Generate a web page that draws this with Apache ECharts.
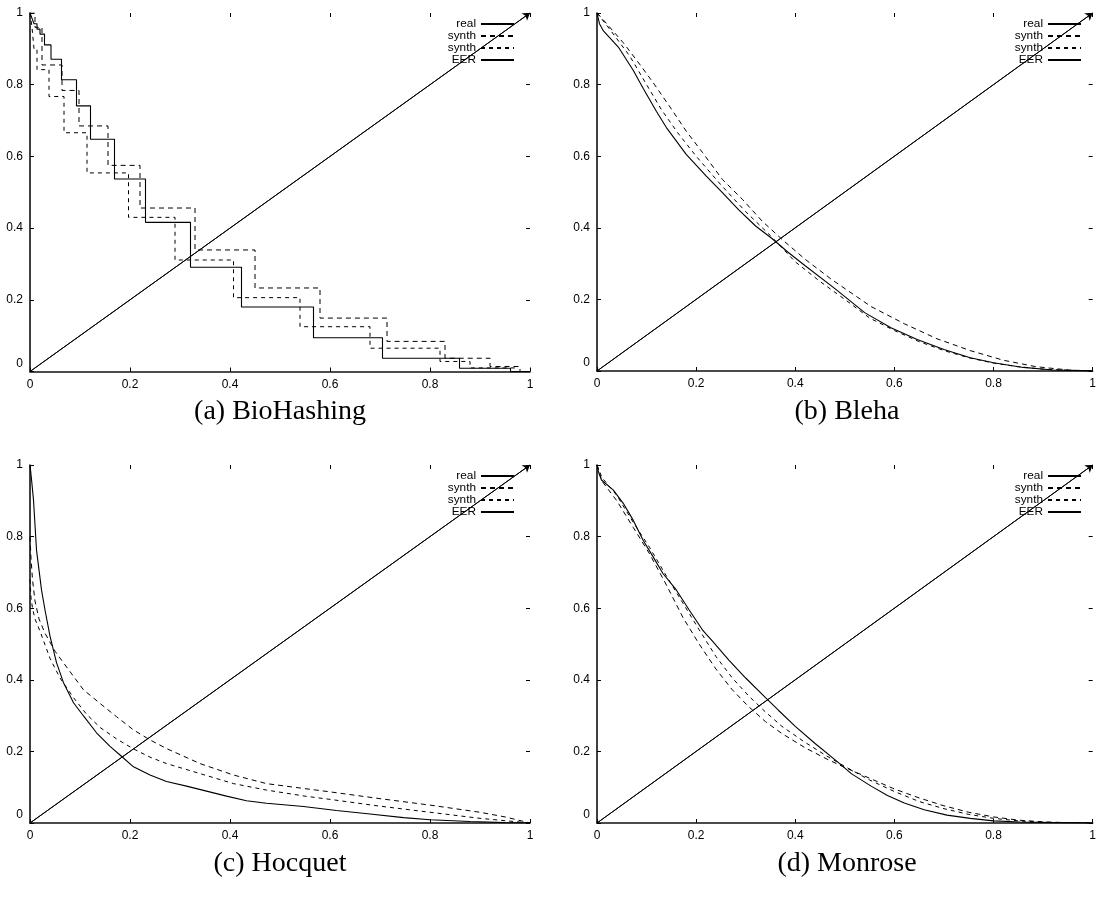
<!DOCTYPE html>
<html><head><meta charset="utf-8">
<script src="https://cdn.jsdelivr.net/npm/echarts@6/dist/echarts.min.js"></script>
<style>html,body{margin:0;padding:0;background:#fff}#c{width:1099px;height:898px}</style>
</head><body><div id="c"></div>
<script>
// ---------- data ----------
const captions = ['(a) BioHashing', '(b) Bleha', '(c) Hocquet', '(d) Monrose'];
const legendNames = ['real', 'synth#1', 'synth#2', 'EER'];
const eerX = [0, 1];
const eerY = [0, 1];

// (a) BioHashing – step curves (x where the drop happens, value after the drop)
const bioRealX = [0,0.004,0.008,0.014,0.02,0.029,0.042,0.063,0.093,0.121,0.169,0.231,0.321,0.423,0.567,0.705,0.859,0.961,1];
const bioRealY = [1,0.985,0.97,0.955,0.941,0.911,0.871,0.814,0.741,0.648,0.537,0.416,0.291,0.180,0.094,0.037,0.009,0,0];
const bioSyn1X = [0,0.01,0.024,0.064,0.098,0.156,0.22,0.33,0.45,0.58,0.714,0.83,0.92,0.98,1];
const bioSyn1Y = [1,0.96,0.855,0.784,0.685,0.575,0.456,0.339,0.233,0.149,0.084,0.037,0.014,0,0];
const bioSyn2X = [0,0.004,0.008,0.014,0.038,0.068,0.114,0.197,0.29,0.407,0.54,0.68,0.82,0.88,0.97,1];
const bioSyn2Y = [1,0.96,0.9,0.842,0.767,0.666,0.554,0.43,0.311,0.206,0.125,0.065,0.028,0.01,0,0];

// (b) Bleha
const bleRealX = [0,0.005,0.013,0.043,0.073,0.093,0.12,0.14,0.18,0.22,0.253,0.286,0.32,0.353,0.386,0.42,0.48,0.54,0.593,0.646,0.70,0.753,0.80,0.86,0.92,1];
const bleRealY = [1,0.97,0.95,0.905,0.84,0.79,0.725,0.68,0.605,0.545,0.498,0.45,0.405,0.37,0.331,0.294,0.23,0.163,0.121,0.088,0.06,0.037,0.023,0.01,0.003,0];
const bleSyn1X = [0,0.01,0.053,0.086,0.113,0.146,0.18,0.213,0.253,0.293,0.333,0.373,0.42,0.473,0.553,0.62,0.686,0.753,0.82,0.886,0.95,1];
const bleSyn1Y = [1,0.985,0.917,0.857,0.806,0.74,0.67,0.61,0.535,0.48,0.419,0.368,0.312,0.256,0.18,0.132,0.09,0.057,0.03,0.012,0.003,0];
const bleSyn2X = [0,0.02,0.066,0.1,0.13,0.163,0.2,0.25,0.3,0.35,0.4,0.45,0.5,0.55,0.6,0.65,0.7,0.75,0.8,0.85,0.9,1];
const bleSyn2Y = [1,0.965,0.88,0.80,0.73,0.665,0.60,0.52,0.445,0.378,0.305,0.25,0.20,0.148,0.113,0.082,0.057,0.037,0.022,0.012,0.005,0];

// (c) Hocquet
const hocRealX = [0,0.003,0.007,0.013,0.023,0.03,0.04,0.053,0.067,0.087,0.107,0.133,0.16,0.18,0.207,0.24,0.273,0.313,0.353,0.393,0.433,0.473,0.547,0.613,0.68,0.747,0.8,0.88,0.95,1];
const hocRealY = [1,0.96,0.902,0.763,0.651,0.595,0.522,0.448,0.392,0.336,0.299,0.252,0.214,0.19,0.157,0.134,0.116,0.103,0.089,0.075,0.062,0.055,0.046,0.035,0.025,0.015,0.009,0.004,0.001,0];
const hocSyn1X = [0,0.002,0.005,0.01,0.018,0.03,0.05,0.073,0.107,0.14,0.173,0.207,0.24,0.273,0.34,0.407,0.473,0.55,0.6,0.7,0.8,0.9,0.95,1];
const hocSyn1Y = [0.8,0.74,0.68,0.62,0.57,0.53,0.48,0.436,0.372,0.334,0.297,0.26,0.232,0.208,0.166,0.134,0.11,0.096,0.087,0.068,0.05,0.03,0.017,0];
const hocSyn2X = [0,0.002,0.005,0.01,0.02,0.04,0.06,0.087,0.113,0.14,0.173,0.207,0.24,0.273,0.34,0.407,0.473,0.55,0.6,0.7,0.8,0.9,1];
const hocSyn2Y = [0.68,0.63,0.6,0.57,0.536,0.46,0.405,0.35,0.304,0.267,0.235,0.207,0.184,0.166,0.138,0.11,0.092,0.075,0.066,0.047,0.03,0.013,0];

// (d) Monrose
const monRealX = [0,0.003,0.009,0.033,0.053,0.073,0.093,0.113,0.133,0.16,0.186,0.213,0.233,0.266,0.3,0.34,0.366,0.4,0.44,0.486,0.513,0.553,0.586,0.62,0.66,0.706,0.753,0.8,0.853,0.92,1];
const monRealY = [1,0.98,0.958,0.93,0.893,0.846,0.79,0.744,0.697,0.651,0.595,0.539,0.508,0.455,0.405,0.35,0.315,0.27,0.222,0.17,0.138,0.103,0.077,0.056,0.037,0.022,0.013,0.006,0.003,0.001,0];
const monSyn1X = [0,0.01,0.04,0.073,0.106,0.14,0.173,0.206,0.24,0.273,0.306,0.34,0.373,0.42,0.466,0.5,0.55,0.6,0.65,0.7,0.75,0.8,0.85,0.9,0.95,1];
const monSyn1Y = [1,0.955,0.9,0.826,0.752,0.665,0.575,0.5,0.43,0.372,0.325,0.283,0.25,0.21,0.177,0.155,0.125,0.095,0.07,0.048,0.03,0.017,0.008,0.003,0.001,0];
const monSyn2X = [0,0.01,0.04,0.073,0.106,0.14,0.173,0.206,0.24,0.273,0.306,0.34,0.373,0.42,0.466,0.5,0.55,0.6,0.65,0.7,0.75,0.8,0.85,0.9,1];
const monSyn2Y = [1,0.965,0.915,0.84,0.77,0.69,0.615,0.54,0.465,0.405,0.355,0.31,0.27,0.225,0.185,0.158,0.12,0.088,0.06,0.04,0.024,0.013,0.006,0.002,0];

// ---------- build ----------
const zip = (xs, ys) => xs.map((x, i) => [x, ys[i]]);
const panels = [
  {real: zip(bioRealX, bioRealY), s1: zip(bioSyn1X, bioSyn1Y), s2: zip(bioSyn2X, bioSyn2Y), step: 'end'},
  {real: zip(bleRealX, bleRealY), s1: zip(bleSyn1X, bleSyn1Y), s2: zip(bleSyn2X, bleSyn2Y), step: false},
  {real: zip(hocRealX, hocRealY), s1: zip(hocSyn1X, hocSyn1Y), s2: zip(hocSyn2X, hocSyn2Y), step: false},
  {real: zip(monRealX, monRealY), s1: zip(monSyn1X, monSyn1Y), s2: zip(monSyn2X, monSyn2Y), step: false}
];
const grids = [
  {left: 30, top: 13, width: 500, height: 358.5},
  {left: 597, top: 13, width: 500, height: 358},
  {left: 30, top: 465, width: 500, height: 358},
  {left: 597, top: 465, width: 500, height: 358}
];
const FONT = 'Liberation Sans';
const xAxes = [], yAxes = [], series = [], legends = [], graphics = [];
const tickStyle = {show: true, inside: true, length: 4, lineStyle: {color: '#000', width: 1}};
const lineAxis = {show: true, onZero: false, lineStyle: {color: '#111', width: 1.6}};
grids.forEach((g, i) => {
  xAxes.push({gridIndex: i, type: 'value', position: 'bottom', min: 0, max: 1, interval: 0.2,
    axisLine: lineAxis, axisTick: tickStyle, splitLine: {show: false},
    axisLabel: {color: '#000', fontSize: 12, fontFamily: FONT, margin: 7}});
  xAxes.push({gridIndex: i, type: 'value', position: 'top', min: 0, max: 1, interval: 0.2,
    axisLine: {show: false, onZero: false}, axisTick: tickStyle, splitLine: {show: false},
    axisLabel: {show: false}});
  yAxes.push({gridIndex: i, type: 'value', position: 'left', min: 0, max: 1, interval: 0.2,
    axisLine: lineAxis, axisTick: tickStyle, splitLine: {show: false},
    axisLabel: {color: '#000', fontSize: 12, fontFamily: FONT, margin: 7,
      formatter: v => v === 0 ? '{z|0}' : String(v),
      rich: {z: {fontSize: 12, fontFamily: FONT, color: '#000', padding: [0, 0, 16, 0]}}}});
  yAxes.push({gridIndex: i, type: 'value', position: 'right', min: 0, max: 1, interval: 0.2,
    axisLine: {show: false, onZero: false}, axisTick: tickStyle, splitLine: {show: false},
    axisLabel: {show: false}});
  const p = panels[i];
  const base = {type: 'line', xAxisIndex: 2 * i, yAxisIndex: 2 * i, symbol: 'none', animation: false,
    silent: true, itemStyle: {color: '#000'}};
  series.push(Object.assign({}, base, {name: 'real', data: p.real, step: p.step,
    lineStyle: {color: '#000', width: 1.1, type: 'solid'}, z: 4}));
  series.push(Object.assign({}, base, {name: 'synth#1', data: p.s1, step: p.step,
    lineStyle: {color: '#000', width: 1, type: [5, 4]}, z: 3}));
  series.push(Object.assign({}, base, {name: 'synth#2', data: p.s2, step: p.step,
    lineStyle: {color: '#000', width: 1, type: [4, 4]}, z: 3}));
  series.push(Object.assign({}, base, {name: 'EER', data: zip(eerX, eerY),
    lineStyle: {color: '#000', width: 1, type: 'solid'}, z: 2,
    markLine: {silent: true, animation: false, symbol: ['none', 'arrow'], symbolSize: 7,
      lineStyle: {color: '#000', width: 1, type: 'solid'}, label: {show: false},
      data: [[{coord: [eerX[0], eerY[0]]}, {coord: [eerX[1], eerY[1]]}]]}}));
  legends.push({orient: 'vertical', align: 'right', right: 1099 - (g.left + g.width) + 15,
    top: g.top + 5, padding: 0, itemGap: 0, itemWidth: 33, itemHeight: 11.7,
    selectedMode: false, data: legendNames, formatter: n => n.split('#')[0],
    itemStyle: {opacity: 0},
    textStyle: {color: '#000', fontSize: 11.8, fontFamily: FONT, lineHeight: 11.7}});
  graphics.push({type: 'text', x: g.left + g.width / 2, y: i < 2 ? 412 : 864, silent: true,
    style: {text: captions[i], textAlign: 'center', textVerticalAlign: 'middle',
      font: '28px "Liberation Serif"', fill: '#000'}});
});

const chart = echarts.init(document.getElementById('c'), null, {renderer: 'canvas'});
chart.setOption({
  backgroundColor: '#fff',
  animation: false,
  grid: grids,
  xAxis: xAxes,
  yAxis: yAxes,
  legend: legends,
  series: series,
  graphic: graphics
});
</script></body></html>
